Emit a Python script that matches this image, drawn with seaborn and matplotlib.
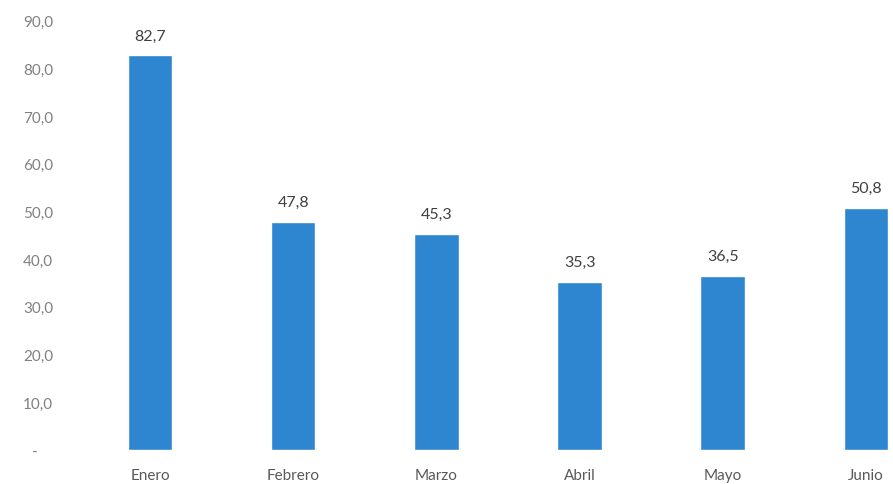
import matplotlib
matplotlib.use("Agg")
import matplotlib.pyplot as plt
import seaborn as sns

meses = ["Enero", "Febrero", "Marzo", "Abril", "Mayo", "Junio"]
valores = [82.7, 47.8, 45.3, 35.3, 36.5, 50.8]
y_ticks = [0, 10, 20, 30, 40, 50, 60, 70, 80, 90]
y_labels = ["-    "] + [f"{v:.1f}".replace(".", ",") for v in y_ticks[1:]]

sns.set_theme(style="white")
plt.rcParams["font.family"] = ["Lato", "DejaVu Sans"]

fig = plt.figure(figsize=(8.93, 4.85), dpi=100)
# ejes recortados a la derecha como en la imagen original
ax = fig.add_axes([60 / 893, 34 / 485, 833 / 893, 451 / 485])

sns.barplot(x=meses, y=valores, color="#2E86D1", saturation=1, width=0.31, ax=ax)

etiquetas = [f"{v:.1f}".replace(".", ",") for v in valores]
ax.bar_label(ax.containers[0], labels=etiquetas, padding=9, fontsize=11.5, color="#404040")

ax.set_xlim(-0.63, 5.19)
ax.set_ylim(0, 94.5)
ax.set_yticks(y_ticks)
ax.set_yticklabels(y_labels)
ax.set_xlabel("")
ax.set_ylabel("")
ax.tick_params(axis="y", length=0, pad=5, labelsize=11, labelcolor="#808080")
ax.tick_params(axis="x", length=0, pad=13, labelsize=11, labelcolor="#595959")
for s in ax.spines.values():
    s.set_visible(False)

fig.savefig("out.png", dpi=100)
